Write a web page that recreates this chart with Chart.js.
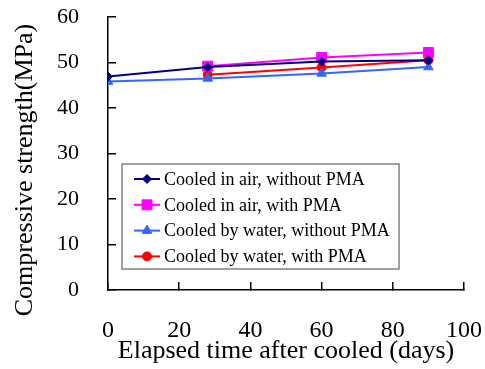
<!DOCTYPE html>
<html>
<head>
<meta charset="utf-8">
<title>Compressive strength after cooling</title>
<script src="https://cdn.jsdelivr.net/npm/chart.js@4/dist/chart.umd.min.js"></script>
<style>
  html, body { margin: 0; padding: 0; background: #fff; }
  #wrap { width: 485px; height: 369px; }
</style>
</head>
<body>
<div id="wrap"><canvas id="strengthChart" width="485" height="369"></canvas></div>
<script>
// ─── Data ───────────────────────────────────────────────────────────────
const days = [0, 28, 60, 90];
const airNoPma = [46.9, 49.0, 50.2, 50.5];
const airPma = [null, 49.2, 51.1, 52.2];
const waterNoPma = [45.8, 46.5, 47.6, 49.0];
const waterPma = [null, 47.3, 48.9, 50.5];

const seriesLabels = [
  "Cooled in air, without PMA",
  "Cooled in air, with PMA",
  "Cooled by water, without PMA",
  "Cooled by water, with PMA",
];

const xTitle = "Elapsed time after cooled (days)";
const yTitle = "Compressive strength(MPa)";

const SERIF = "'Liberation Serif', 'Times New Roman', serif";

// ─── Helpers ────────────────────────────────────────────────────────────
function toPoints(values) {
  return days
    .map((d, i) => ({ x: d, y: values[i] }))
    .filter((p) => p.y !== null);
}

function makeSeries(label, values, color, pointStyle, radius) {
  return {
    label,
    data: toPoints(values),
    borderColor: color,
    backgroundColor: color,
    borderWidth: 2,
    pointStyle,
    pointRadius: radius,
    pointHoverRadius: radius,
    pointBorderWidth: 1,
    tension: 0,
  };
}

// Boxed legend sitting inside the plot area
const boxLegend = {
  id: "boxLegend",
  afterDraw(chart) {
    const ctx = chart.ctx;
    const left = 122, top = 164, width = 277, height = 105;
    ctx.save();
    ctx.fillStyle = "#fff";
    ctx.fillRect(left, top, width, height);
    ctx.strokeStyle = "#808080";
    ctx.lineWidth = 1.5;
    ctx.strokeRect(left, top, width, height);

    chart.data.datasets.forEach((ds, i) => {
      const y = 179 + i * 25.8;
      ctx.strokeStyle = ds.borderColor;
      ctx.fillStyle = ds.backgroundColor;
      ctx.lineWidth = 2;
      ctx.beginPath();
      ctx.moveTo(134, y);
      ctx.lineTo(160, y);
      ctx.stroke();
      ctx.lineWidth = 1;
      Chart.helpers.drawPoint(ctx, {
        pointStyle: ds.pointStyle,
        radius: ds.pointRadius,
        borderWidth: 1,
        rotation: 0,
      }, 147, y);

      ctx.fillStyle = "#000";
      ctx.font = "18px " + SERIF;
      ctx.textAlign = "left";
      ctx.textBaseline = "middle";
      ctx.fillText(ds.label, 164, y + 1);
    });
    ctx.restore();
  },
};

// Vertical axis title, placed a little below the axis midpoint
const yAxisTitle = {
  id: "yAxisTitle",
  afterDraw(chart) {
    const ctx = chart.ctx;
    ctx.save();
    ctx.translate(25, 170);
    ctx.rotate(-Math.PI / 2);
    ctx.fillStyle = "#000";
    ctx.font = "26px " + SERIF;
    ctx.textAlign = "center";
    ctx.textBaseline = "middle";
    ctx.fillText(yTitle, 0, 0);
    ctx.restore();
  },
};

// ─── Chart ──────────────────────────────────────────────────────────────
new Chart(document.getElementById("strengthChart"), {
  type: "line",
  data: {
    datasets: [
      makeSeries(seriesLabels[0], airNoPma, "#000080", "rectRot", 4.5),
      makeSeries(seriesLabels[1], airPma, "#FF00FF", "rect", 7),
      makeSeries(seriesLabels[2], waterNoPma, "#3366FF", "triangle", 5.5),
      makeSeries(seriesLabels[3], waterPma, "#FF0000", "circle", 4.5),
    ],
  },
  options: {
    responsive: false,
    animation: false,
    layout: { padding: { top: 17, right: 21, bottom: 0, left: 0 } },
    plugins: {
      legend: { display: false },
      tooltip: { enabled: false },
    },
    scales: {
      x: {
        type: "linear",
        min: 0,
        max: 100,
        afterFit: (scale) => {
          scale.height = 79;
          scale.paddingLeft = 0;
          scale.paddingRight = 0;
        },
        ticks: {
          stepSize: 20,
          color: "#000",
          padding: 34,
          maxRotation: 0,
          font: { family: SERIF, size: 24 },
        },
        grid: {
          drawOnChartArea: false,
          color: "#000",
          lineWidth: 1.5,
          tickLength: -8,
        },
        border: { display: true, color: "#000", width: 1.5 },
        title: {
          display: true,
          text: xTitle,
          color: "#000",
          font: { family: SERIF, size: 26 },
          padding: { top: 0, bottom: 2 },
        },
      },
      y: {
        min: 0,
        max: 60,
        afterFit: (scale) => {
          scale.width = 108;
          scale.paddingTop = 0;
          scale.paddingBottom = 0;
        },
        ticks: {
          stepSize: 10,
          color: "#000",
          padding: 37,
          font: { family: SERIF, size: 22 },
        },
        grid: {
          drawOnChartArea: false,
          color: "#000",
          lineWidth: 1.5,
          tickLength: -8,
        },
        border: { display: true, color: "#000", width: 1.5 },
      },
    },
  },
  plugins: [boxLegend, yAxisTitle],
});
</script>
</body>
</html>
